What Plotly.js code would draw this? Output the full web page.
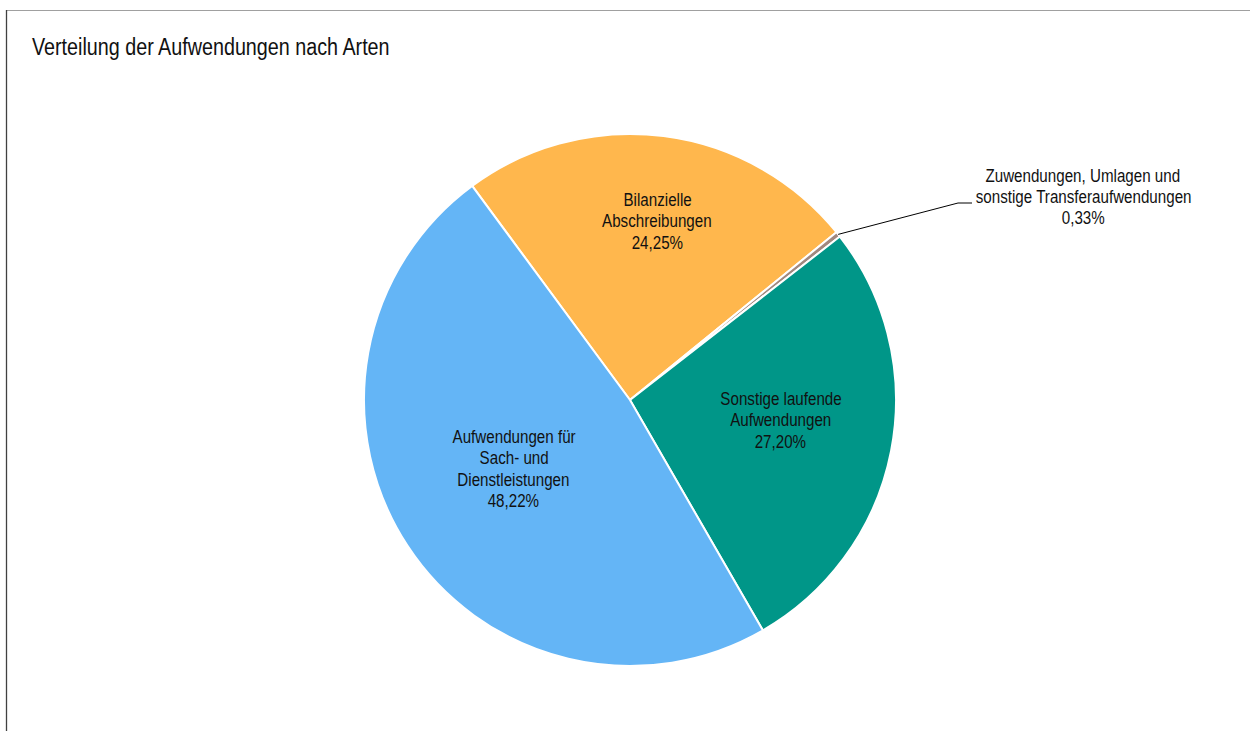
<!DOCTYPE html>
<html><head><meta charset="utf-8">
<script src="https://cdn.plot.ly/plotly-3.0.1.min.js"></script>
<style>
html,body{margin:0;padding:0;background:#fff;}
#chart{width:1250px;height:731px;}
/* the reference uses a narrow sans face; compress the installed one horizontally */
#chart text.annotation-text{transform-box:fill-box;transform-origin:center;transform:scaleX(0.82);}
#chart text.gtitle{transform-box:fill-box;transform-origin:left center;transform:scaleX(0.84);}
</style>
</head><body><div id="chart"></div>
<script>
// ---- data ----
const chartTitle = "Verteilung der Aufwendungen nach Arten";
const categories = [
  "Bilanzielle Abschreibungen",
  "Zuwendungen, Umlagen und sonstige Transferaufwendungen",
  "Sonstige laufende Aufwendungen",
  "Aufwendungen für Sach- und Dienstleistungen"
];
const labelLines = [
  ["Bilanzielle", "Abschreibungen"],
  ["Zuwendungen, Umlagen und", "sonstige Transferaufwendungen"],
  ["Sonstige laufende", "Aufwendungen"],
  ["Aufwendungen für", "Sach- und", "Dienstleistungen"]
];
const shares = [24.25, 0.33, 27.20, 48.22];

// ---- style ----
const sliceColors = ["#FFB74D", "#A1887F", "#009688", "#64B5F6"];
const FONT = "'Liberation Sans', Arial, sans-serif";
const W = 1250, H = 731;
const CX = 630, CY = 400, R = 266, ROT = -36.4;
const LS = 21.3;           // label line spacing (px)
const LABEL_SIZE = 18.5;

const px = x => x / W;
const py = y => 1 - y / H;

const fmt = v => v.toFixed(2).replace('.', ',') + '%';

// slice geometry
const total = shares.reduce((a, b) => a + b, 0);
let cur = ROT;
const mids = shares.map(v => { const span = v / total * 360; const m = cur + span / 2; cur += span; return m; });

// inside label anchors (polar: angle in deg clockwise from top, radius fraction)
const insidePolar = {0: [8.73, 0.681], 2: [97.54, 0.5726], 3: [239.54, 0.508]};
// outside label for small slice
const outside = {1: {elbow: [958, 203], end: [972, 203], center: [1083, 196.5]}};

const annotations = [];
const shapes = [];
function addLabel(lines, cx, cy) {
  const n = lines.length;
  lines.forEach((t, k) => {
    annotations.push({
      text: t, x: px(cx), y: py(cy + (k - (n - 1) / 2) * LS),
      xref: 'paper', yref: 'paper', xanchor: 'center', yanchor: 'middle',
      showarrow: false, font: {family: FONT, size: LABEL_SIZE, color: '#111'}
    });
  });
}
shares.forEach((v, i) => {
  const lines = labelLines[i].concat([fmt(v)]);
  if (insidePolar[i]) {
    const [a, f] = insidePolar[i];
    const rad = a * Math.PI / 180;
    addLabel(lines, CX + f * R * Math.sin(rad), CY - f * R * Math.cos(rad));
  } else {
    const o = outside[i];
    const rad = mids[i] * Math.PI / 180;
    const sx = CX + R * Math.sin(rad), sy = CY - R * Math.cos(rad);
    shapes.push({
      type: 'path', xref: 'paper', yref: 'paper',
      path: `M ${px(sx)},${py(sy)} L ${px(o.elbow[0])},${py(o.elbow[1])} L ${px(o.end[0])},${py(o.end[1])}`,
      line: {color: '#000', width: 1}
    });
    addLabel(lines, o.center[0], o.center[1]);
  }
});

// frame lines
shapes.push({type: 'line', xref: 'paper', yref: 'paper', x0: px(6), x1: px(1250), y0: py(10.5), y1: py(10.5), line: {color: '#a0a0a0', width: 1}});
shapes.push({type: 'line', xref: 'paper', yref: 'paper', x0: px(6.5), x1: px(6.5), y0: py(10), y1: py(731), line: {color: '#404040', width: 1.3}});

const trace = {
  type: 'pie',
  labels: categories,
  values: shares,
  sort: false,
  direction: 'clockwise',
  rotation: ROT,
  textinfo: 'none',
  hoverinfo: 'label+percent',
  marker: {colors: sliceColors, line: {color: '#ffffff', width: 2}},
  domain: {x: [px(CX - R), px(CX + R)], y: [py(CY + R), py(CY - R)]},
  showlegend: false
};

const layout = {
  width: W, height: H, autosize: false,
  margin: {l: 0, r: 0, t: 0, b: 0, pad: 0},
  paper_bgcolor: '#fff',
  title: {
    text: chartTitle, x: px(32), xanchor: 'left', xref: 'container',
    y: py(47), yanchor: 'middle', yref: 'container',
    font: {family: FONT, size: 23.5, color: '#111'}
  },
  annotations: annotations,
  shapes: shapes
};

Plotly.newPlot('chart', [trace], layout, {displayModeBar: false, responsive: false});
</script>
</body></html>
